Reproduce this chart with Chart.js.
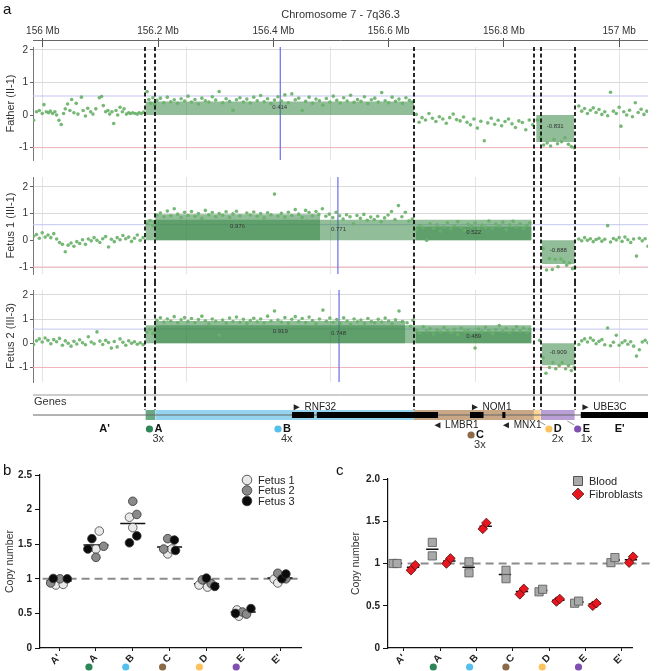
<!DOCTYPE html>
<html>
<head>
<meta charset="utf-8">
<script src="https://cdn.jsdelivr.net/npm/chart.js@4.4.1/dist/chart.umd.min.js"></script>
<style>
  body { margin: 0; background: #fff; font-family: "Liberation Sans", Arial, sans-serif; }
  #page { position: relative; width: 668px; height: 671px; overflow: hidden; }
  canvas { position: absolute; left: 0; }
  .panel { position: absolute; font-size: 15px; color: #111; z-index: 2; }
</style>
</head>
<body>
<div id="page">
  <div class="panel" style="left:3px;top:0">a</div>
  <canvas id="trackFather" width="668" height="168" style="top:0"></canvas>
  <canvas id="trackFetus1" width="668" height="114" style="top:168px"></canvas>
  <canvas id="trackFetus2" width="668" height="108" style="top:282px"></canvas>
  <canvas id="genes" width="668" height="80" style="top:390px"></canvas>
  <div class="panel" style="left:3px;top:461px">b</div>
  <canvas id="fetusCn" width="334" height="209" style="top:462px"></canvas>
  <div class="panel" style="left:336px;top:461px">c</div>
  <canvas id="tissueCn" width="334" height="209" style="top:462px;left:334px"></canvas>
</div>
<script>
// ---- panel a: array CGH tracks (Mb, log2 ratio) ----
const xMin = 155.983, xMax = 157.050;
const topTicksMb = [156, 156.2, 156.4, 156.6, 156.8, 157];
const gridMb = [156, 156.25, 156.5, 156.75, 157];
const boundaries = [156.178, 156.195, 156.644, 156.852, 156.864, 156.923];
const gainLine = 0.585, lossLine = -1;

const fatherProbes = [
  [155.984,-0.16],[155.989,0.10],[155.994,0.14],[155.999,0.05],[156.002,0.32],[156.006,0.10],[156.010,0.07],[156.013,0.12],
  [156.017,0.05],[156.021,0.10],[156.024,0.00],[156.028,-0.16],[156.032,-0.29],[156.036,0.05],[156.039,0.19],[156.043,0.34],
  [156.047,0.14],[156.050,0.48],[156.054,0.07],[156.058,0.36],[156.061,0.03],[156.067,0.55],[156.070,0.14],[156.074,-0.03],
  [156.078,0.21],[156.083,0.10],[156.087,0.03],[156.092,0.19],[156.098,0.53],[156.102,0.57],[156.105,0.29],[156.109,0.10],
  [156.113,0.14],[156.116,0.03],[156.120,0.10],[156.123,-0.26],[156.127,0.14],[156.130,0.00],[156.134,0.24],[156.138,0.10],
  [156.141,0.19],[156.145,0.03],[156.149,0.07],[156.152,0.05],[156.156,0.07],[156.160,0.05],[156.164,0.03],[156.167,0.07],
  [156.171,0.05],[156.175,0.09],
  [156.181,0.72],[156.184,0.48],[156.187,0.36],[156.191,0.53],[156.194,0.32],
  [156.198,0.45],[156.204,0.52],[156.210,0.38],[156.216,0.55],[156.222,0.41],[156.228,0.47],[156.234,0.36],[156.240,0.50],
  [156.246,0.43],[156.252,0.58],[156.258,0.40],[156.264,0.48],[156.270,0.34],[156.276,0.52],[156.282,0.44],[156.288,0.40],
  [156.294,0.56],[156.300,0.46],[156.306,0.72],[156.312,0.38],[156.318,0.50],[156.324,0.42],[156.330,0.15],[156.336,0.47],
  [156.342,0.53],[156.348,0.40],[156.354,0.49],[156.360,0.37],[156.366,0.55],[156.372,0.44],[156.378,0.60],[156.384,0.41],
  [156.390,0.50],[156.396,0.35],[156.402,0.46],[156.408,0.56],[156.414,0.43],[156.420,0.62],[156.426,0.38],[156.432,0.65],
  [156.438,0.47],[156.444,0.52],[156.450,0.14],[156.456,0.42],[156.462,0.55],[156.468,0.36],[156.474,0.49],[156.480,0.44],
  [156.486,0.30],[156.492,0.51],[156.498,0.40],[156.504,0.58],[156.510,0.45],[156.516,0.37],[156.522,0.53],[156.528,0.43],
  [156.534,0.61],[156.540,0.39],[156.546,0.48],[156.552,0.42],[156.558,0.56],[156.564,0.35],[156.570,0.47],[156.576,0.52],
  [156.582,0.40],[156.588,0.69],[156.594,0.44],[156.600,0.38],[156.606,0.55],[156.612,0.42],[156.618,0.49],[156.624,0.36],
  [156.630,0.53],[156.636,0.45],[156.641,0.40],
  [156.648,0.02],[156.653,-0.22],[156.658,-0.08],[156.664,-0.15],[156.670,0.05],[156.676,-0.10],[156.682,-0.20],[156.688,-0.05],
  [156.694,-0.12],[156.700,-0.25],[156.706,-0.08],[156.712,0.03],[156.718,-0.14],[156.724,-0.18],[156.730,-0.06],[156.736,-0.22],
  [156.742,-0.30],[156.748,-0.12],[156.754,-0.40],[156.760,-0.19],[156.766,-0.79],[156.772,-0.24],[156.778,-0.10],[156.784,-0.28],
  [156.790,-0.16],[156.796,-0.33],[156.802,-0.20],[156.808,-0.12],[156.814,-0.27],[156.820,-0.38],[156.826,-0.18],[156.832,-0.23],
  [156.838,-0.45],[156.844,-0.15],[156.850,-0.30],
  [156.858,-0.15],[156.864,-0.70],[156.869,-0.92],[156.875,-0.86],[156.881,-0.95],[156.887,-0.75],[156.893,-0.88],[156.900,-0.82],
  [156.906,-0.70],[156.912,-0.90],[156.917,-0.97],[156.922,-1.00],
  [156.930,0.28],[156.935,0.12],[156.940,0.20],[156.945,0.05],[156.950,0.15],[156.955,0.22],[156.960,0.08],[156.965,0.17],
  [156.970,0.02],[156.975,0.10],[156.980,-0.02],[156.985,0.70],[156.990,0.12],[156.995,0.05],[157.000,0.24],[157.003,-0.34],
  [157.008,0.10],[157.013,0.00],[157.018,0.15],[157.023,-0.05],[157.028,0.38],[157.033,0.08],[157.038,0.18],[157.043,0.02],
  [157.048,0.12]
];

const fetus1Probes = [
  [155.984,0.15],[155.989,0.22],[155.994,0.08],[155.999,0.28],[156.004,0.12],[156.009,0.20],[156.014,0.10],[156.019,0.25],
  [156.024,0.05],[156.029,-0.08],[156.034,-0.15],[156.039,-0.43],[156.044,-0.18],[156.049,-0.10],[156.054,-0.22],[156.059,-0.05],
  [156.064,-0.12],[156.069,0.02],[156.074,-0.15],[156.079,0.05],[156.084,-0.02],[156.089,0.10],[156.094,0.00],[156.099,-0.08],
  [156.104,0.06],[156.109,0.14],[156.114,-0.25],[156.119,0.04],[156.124,-0.05],[156.129,0.10],[156.134,0.02],[156.139,0.18],
  [156.144,0.06],[156.149,0.12],[156.154,-0.04],[156.159,0.08],[156.164,0.20],[156.169,0.00],[156.174,0.10],
  [156.181,0.62],[156.186,0.74],[156.191,0.55],[156.194,0.68],
  [156.198,0.95],[156.204,1.02],[156.210,0.88],[156.216,1.10],[156.222,0.92],[156.228,1.18],[156.234,0.98],[156.240,0.85],
  [156.246,1.05],[156.252,0.93],[156.258,1.08],[156.264,0.90],[156.270,1.00],[156.276,0.82],[156.282,1.12],[156.288,0.96],
  [156.294,1.04],[156.300,0.88],[156.306,1.00],[156.312,0.94],[156.318,1.07],[156.324,0.86],[156.330,0.99],[156.336,1.09],
  [156.342,0.92],[156.348,0.55],[156.354,1.02],[156.360,0.95],[156.366,1.06],[156.372,0.90],[156.378,1.00],[156.384,0.84],
  [156.390,1.03],[156.396,0.96],[156.402,1.73],[156.408,0.91],[156.414,1.01],[156.420,0.87],[156.426,1.05],[156.432,0.93],
  [156.438,1.15],[156.444,0.98],[156.450,0.86],[156.456,1.12],[156.462,1.04],[156.468,0.92],[156.474,1.08],[156.479,0.97],
  [156.485,1.18],[156.491,0.90],[156.497,0.98],[156.503,0.85],[156.509,1.05],[156.515,0.92],[156.521,0.80],[156.527,0.96],
  [156.533,0.88],[156.539,0.62],[156.545,0.93],[156.551,0.82],[156.557,0.97],[156.563,0.75],[156.569,0.87],[156.575,0.78],
  [156.581,0.90],[156.587,0.70],[156.593,0.84],[156.599,0.95],[156.605,1.08],[156.611,0.78],[156.617,1.30],[156.623,0.88],
  [156.629,1.05],[156.635,0.72],[156.641,0.80],
  [156.648,0.40],[156.654,0.55],[156.660,0.48],[156.666,0.00],[156.672,0.62],[156.678,0.45],[156.684,0.58],[156.690,0.35],
  [156.696,0.50],[156.702,0.66],[156.708,0.44],[156.714,0.55],[156.720,0.70],[156.726,0.48],[156.732,0.38],[156.738,0.60],
  [156.744,0.52],[156.750,0.65],[156.756,0.42],[156.762,0.57],[156.768,0.49],[156.774,0.72],[156.780,0.46],[156.786,0.61],
  [156.792,0.53],[156.798,0.68],[156.804,0.40],[156.810,0.58],[156.816,0.71],[156.822,0.50],[156.828,0.62],[156.834,0.45],
  [156.840,0.56],[156.845,0.66],
  [156.868,-0.31],[156.874,-1.11],[156.879,-0.68],[156.884,-1.09],[156.889,-0.72],[156.894,-0.99],[156.899,-0.70],[156.904,-0.80],
  [156.909,-0.93],[156.914,-0.85],[156.919,-1.06],[156.923,-1.02],
  [156.930,0.05],[156.935,-0.02],[156.940,0.10],[156.945,0.00],[156.950,0.06],[156.955,-0.05],[156.960,0.03],[156.965,0.08],
  [156.970,-0.03],[156.975,0.04],[156.980,0.55],[156.985,-0.06],[156.990,0.07],[156.995,0.01],[157.000,0.10],[157.005,-0.04],
  [157.010,0.12],[157.015,0.02],[157.020,-0.08],[157.025,0.05],[157.030,-0.59],[157.035,0.08],[157.040,-0.02],[157.045,0.06],
  [157.050,-0.22]
];

const fetus2Probes = [
  [155.984,-0.05],[155.989,0.10],[155.994,0.18],[155.999,0.05],[156.004,0.22],[156.009,0.12],[156.014,-0.02],[156.019,0.15],
  [156.024,0.06],[156.029,0.20],[156.034,-0.08],[156.039,0.10],[156.044,0.00],[156.049,-0.12],[156.054,0.08],[156.059,-0.03],
  [156.064,0.14],[156.069,0.02],[156.074,-0.06],[156.079,0.27],[156.084,0.05],[156.089,-0.02],[156.094,0.47],[156.099,0.09],
  [156.104,-0.05],[156.109,0.12],[156.114,0.03],[156.119,-0.20],[156.124,0.07],[156.129,-0.15],[156.134,0.18],[156.139,0.04],
  [156.144,-0.08],[156.149,0.10],[156.154,0.00],[156.159,0.06],[156.164,-0.04],[156.169,0.02],[156.174,-0.06],
  [156.181,0.45],[156.186,0.58],[156.191,0.40],[156.194,0.52],
  [156.198,0.95],[156.204,1.05],[156.210,0.88],[156.216,1.00],[156.222,0.92],[156.228,1.10],[156.234,0.85],[156.240,0.97],
  [156.246,1.06],[156.252,0.90],[156.258,1.02],[156.264,0.86],[156.270,0.98],[156.276,1.12],[156.282,0.93],[156.288,0.80],
  [156.294,1.00],[156.300,0.91],[156.306,0.33],[156.312,0.96],[156.318,0.84],[156.324,1.04],[156.330,0.90],[156.336,1.08],
  [156.342,0.87],[156.348,0.99],[156.354,0.82],[156.360,0.94],[156.366,1.03],[156.372,0.89],[156.378,1.00],[156.384,0.85],
  [156.390,1.12],[156.396,0.92],[156.402,1.33],[156.408,0.96],[156.414,0.88],[156.420,1.06],[156.426,0.83],[156.432,0.99],
  [156.438,1.10],[156.444,0.90],[156.450,1.02],[156.456,0.86],[156.462,1.08],[156.468,0.94],[156.474,0.80],[156.480,1.00],
  [156.486,1.37],[156.492,0.91],[156.498,1.04],[156.504,0.87],[156.510,0.98],[156.516,0.84],[156.522,1.05],[156.528,0.92],
  [156.534,0.78],[156.540,1.00],[156.546,0.89],[156.552,0.96],[156.558,0.82],[156.564,1.02],[156.570,0.90],[156.576,0.85],
  [156.582,0.99],[156.588,0.88],[156.594,1.04],[156.600,0.92],[156.606,0.80],[156.612,0.97],[156.618,1.33],[156.624,0.90],
  [156.632,0.85],[156.638,0.70],[156.642,0.95],
  [156.648,0.55],[156.654,0.42],[156.660,0.68],[156.666,0.50],[156.672,0.60],[156.678,0.38],[156.684,0.55],[156.690,0.47],
  [156.696,0.65],[156.702,0.52],[156.708,0.44],[156.714,0.58],[156.720,0.36],[156.726,0.62],[156.732,0.50],[156.738,0.55],
  [156.744,0.45],[156.750,-0.20],[156.756,0.59],[156.762,0.48],[156.768,0.66],[156.774,0.52],[156.780,0.40],[156.786,0.57],
  [156.792,0.73],[156.798,0.49],[156.804,0.61],[156.810,0.43],[156.816,0.55],[156.822,0.68],[156.828,0.50],[156.834,0.62],
  [156.840,0.45],[156.845,0.58],
  [156.862,0.12],[156.868,-0.60],[156.873,-1.24],[156.879,-1.00],[156.885,-0.80],[156.890,-1.05],[156.896,-0.93],[156.901,-0.80],
  [156.907,-1.05],[156.912,-0.93],[156.917,-1.13],[156.922,-1.00],
  [156.930,-0.05],[156.935,0.10],[156.940,0.18],[156.945,0.05],[156.950,0.22],[156.955,0.12],[156.960,-0.02],[156.965,0.08],
  [156.970,0.15],[156.975,-0.06],[156.980,0.63],[156.985,-0.10],[156.990,0.04],[156.995,0.33],[157.000,-0.08],[157.005,0.02],
  [157.010,0.10],[157.015,-0.04],[157.020,0.06],[157.025,-0.12],[157.030,-0.53],[157.035,-0.27],[157.040,0.05],[157.045,0.12],
  [157.050,0.02]
];

// called segments: [from Mb, to Mb, mean log2 ratio]
const fatherSegments = [[156.178, 156.644, 0.414], [156.856, 156.922, -0.831]];
const fetus1Segments = [[156.178, 156.848, 0.771], [156.195, 156.481, 0.976], [156.647, 156.848, 0.522], [156.866, 156.923, -0.888]];
const fetus2Segments = [[156.178, 156.848, 0.748], [156.195, 156.629, 0.919], [156.647, 156.848, 0.489], [156.866, 156.923, -0.909]];
const cursorMb = { father: 156.412, fetus1: 156.512, fetus2: 156.514 };

// genes track
const regionNames = ['A', 'B', 'C', 'D', 'E'];
const regionBounds = [[156.178, 156.195], [156.195, 156.644], [156.644, 156.852], [156.852, 156.864], [156.864, 156.923]];
const regionCopies = ['3x', '4x', '3x', '2x', '1x'];
const regionLabelMb = [156.185, 156.408, 156.743, 156.878, 156.928];
const flankLabels = [["A'", 156.107], ["E'", 157.001]];
const geneBlocks = [[156.432, 156.471], [156.475, 156.686], [156.741, 156.765], [156.797, 156.803], [156.933, 157.050]];
const geneNames = [['RNF32', 156.432, '+'], ['NOM1', 156.741, '+'], ['UBE3C', 156.933, '+'], ['LMBR1', 156.676, '-'], ['MNX1', 156.795, '-']];

// ---- panels b and c: qPCR copy number ----
const cnCategories = ["A'", 'A', 'B', 'C', 'D', 'E', "E'"];
const fetus1Cn = [[0.91, 0.92], [1.43, 1.69], [1.89, 1.74], [1.36, 1.43], [0.91, 0.88], [0.55, 0.46], [0.995, 0.94]];
const fetus2Cn = [[0.94, 1.0], [1.31, 1.47], [2.12, 1.93], [1.43, 1.58], [0.985, 0.93], [0.52, 0.49], [1.08, 1.0]];
const fetus3Cn = [[1.005, 1.0], [1.43, 1.58], [1.52, 1.62], [1.56, 1.41], [1.01, 0.89], [0.50, 0.57], [1.0, 1.07]];
const fetus1Jitter = [[-0.09, 0.11], [0, 0.09], [-0.09, 0], [-0.05, 0.06], [-0.2, 0.03], [-0.17, -0.12], [-0.16, -0.06]];
const fetus2Jitter = [[-0.23, 0.02], [0, 0.21], [0, 0.11], [-0.16, -0.05], [-0.11, 0.13], [-0.02, 0.09], [-0.06, 0.16]];
const fetus3Jitter = [[-0.16, 0.22], [-0.22, -0.11], [-0.09, 0.11], [0.13, 0.16], [0, 0.23], [-0.21, 0.21], [0.05, 0.16]];
const fetusMedian = [0.97, 1.49, 1.80, 1.46, 0.93, 0.52, 1.01];

const bloodCn = [[1.0, 1.0], [1.25, 1.09], [1.02, 0.89], [0.92, 0.82], [0.665, 0.695], [0.53, 0.555], [1.01, 1.07]];
const fibroCn = [[0.92, 0.98], [1.0, 1.06], [1.41, 1.48], [0.635, 0.70], [0.55, 0.58], [0.50, 0.53], [1.01, 1.08]];
const bloodJitter = [[-0.30, -0.19], [-0.22, -0.22], [-0.21, -0.21], [-0.19, -0.19], [-0.28, -0.18], [-0.30, -0.19], [-0.30, -0.19]];
const fibroJitter = [[0.19, 0.31], [0.17, 0.28], [0.17, 0.27], [0.19, 0.30], [0.20, 0.29], [0.20, 0.30], [0.20, 0.31]];
const bloodMedian = [1.0, 1.17, 0.955, 0.87, 0.68, 0.545, 1.04];
const fibroMedian = [0.955, 1.03, 1.44, 0.67, 0.565, 0.52, 1.045];

// colours
const FONT = '"Liberation Sans", Arial, sans-serif';
const regionBand = { A: '#6aa984', B: '#95d4ef', C: '#c8a787', D: '#fcd597', E: '#b99fd6' };
const regionDot = { A: '#2e8658', B: '#55c0ee', C: '#8b6a47', D: '#fdc25e', E: '#7f4fb2' };

Chart.defaults.font.family = FONT;
Chart.defaults.color = '#333';
Chart.defaults.animation = false;
Chart.defaults.events = [];
Chart.defaults.plugins.legend.display = false;
Chart.defaults.plugins.tooltip.enabled = false;

const hline = (y, color, width, x0 = xMin, x1 = xMax) => ({
  data: [{ x: x0, y }, { x: x1, y }], showLine: true, borderColor: color, borderWidth: width, pointRadius: 0
});
const rect = (x0, x1, lo, hi, color) => ({
  data: [{ x: x0, y: hi }, { x: x1, y: hi }], showLine: true, borderWidth: 0, borderColor: 'rgba(0,0,0,0)',
  pointRadius: 0, fill: { value: lo }, backgroundColor: color
});

function boundaryLines(mode) {
  return {
    id: 'boundaryLines',
    afterDraw(chart) {
      const { ctx, chartArea, scales: { x, y } } = chart;
      const top = mode === 'first' ? chartArea.top : 0;
      const bottom = mode === 'genes' ? y.getPixelForValue(0.5) : chart.height;
      ctx.save();
      ctx.strokeStyle = '#111';
      ctx.lineWidth = 1.8;
      ctx.setLineDash([4, 2.5]);
      boundaries.forEach(b => {
        const px = Math.round(x.getPixelForValue(b));
        ctx.beginPath(); ctx.moveTo(px, top); ctx.lineTo(px, bottom); ctx.stroke();
      });
      ctx.restore();
    }
  };
}

const segmentLabels = {
  id: 'segmentLabels',
  afterDatasetsDraw(chart, args, opts) {
    const { ctx, scales: { x, y } } = chart;
    ctx.save();
    ctx.font = '6px ' + FONT;
    ctx.fillStyle = '#333';
    ctx.textAlign = 'center';
    ctx.textBaseline = 'middle';
    opts.segments.forEach(([a, b, v]) => {
      const lift = v > 0 ? 0.55 : 0.42;
      ctx.fillText(v.toFixed(3), x.getPixelForValue((a + b) / 2), y.getPixelForValue(v * lift));
    });
    ctx.restore();
  }
};

const topAxisLine = {
  id: 'topAxisLine',
  afterDraw(chart) {
    const { ctx, chartArea } = chart;
    ctx.save();
    ctx.strokeStyle = '#666';
    ctx.lineWidth = 1;
    ctx.beginPath();
    ctx.moveTo(chartArea.left, chartArea.top - 6.5);
    ctx.lineTo(chartArea.right, chartArea.top - 6.5);
    ctx.stroke();
    ctx.restore();
  }
};

function trackChart(id, probes, segments, cursor, yMin, yMax, title, layout) {
  const scales = {
    x: {
      type: 'linear', min: xMin, max: xMax,
      afterBuildTicks: s => { s.ticks = gridMb.map(v => ({ value: v })); },
      ticks: { display: false },
      grid: { color: '#e3e3e3', drawTicks: false },
      border: { display: false },
      afterFit: s => { s.height = layout.bottom; }
    },
    y: {
      min: yMin, max: yMax,
      afterBuildTicks: s => { s.ticks = [-1, 0, 1, 2].map(v => ({ value: v })); },
      ticks: { font: { size: 10 }, color: '#333', padding: 2 },
      grid: { color: c => (c.tick && c.tick.value === 0 ? 'rgba(0,0,0,0)' : '#dadada'), tickLength: 3, tickColor: '#666' },
      border: { color: '#777' },
      title: { display: true, text: title, font: { size: 11 }, color: '#333', padding: { top: 4, bottom: 2 } },
      afterFit: s => { s.width = 33; }
    }
  };
  const plugins = [boundaryLines(layout.top ? 'first' : 'rest'), segmentLabels];
  if (layout.topAxis) {
    scales.xTop = {
      type: 'linear', position: 'top', min: xMin, max: xMax,
      afterBuildTicks: s => { s.ticks = topTicksMb.map(v => ({ value: v })); },
      ticks: { callback: v => `${+v.toFixed(1)} Mb`, font: { size: 10 }, color: '#333', padding: 1, maxRotation: 0, autoSkip: false },
      grid: { drawOnChartArea: false, tickLength: 9, color: '#555' },
      border: { display: false },
      title: { display: true, text: 'Chromosome 7 - 7q36.3', font: { size: 11 }, color: '#333', padding: { top: 8, bottom: 0 } },
      afterFit: s => { s.height = 47; }
    };
    plugins.push(topAxisLine);
  }
  new Chart(document.getElementById(id), {
    type: 'scatter',
    data: {
      datasets: [
        { data: probes.map(([x, y]) => ({ x, y })), pointRadius: 1.8, pointBackgroundColor: 'rgba(104,176,104,0.9)', pointBorderWidth: 0 },
        ...segments.map(([a, b, v]) => rect(a, b, 0, v, 'rgba(55,135,70,0.55)')),
        { data: [{ x: cursor, y: yMin }, { x: cursor, y: yMax }], showLine: true, borderColor: '#6c6ce8', borderWidth: 1.2, pointRadius: 0 },
        hline(gainLine, '#c3c5f3', 1),
        hline(lossLine, '#f1b3bb', 1)
      ]
    },
    options: {
      responsive: false,
      devicePixelRatio: 1,
      layout: { padding: { left: 0, right: 20, top: layout.topPad, bottom: 0 } },
      scales,
      plugins: { segmentLabels: { segments } }
    },
    plugins
  });
}

trackChart('trackFather', fatherProbes, fatherSegments, cursorMb.father, -1.38, 2.09, 'Father (II-1)', { topAxis: true, top: true, topPad: 0, bottom: 3 });
trackChart('trackFetus1', fetus1Probes, fetus1Segments, cursorMb.fetus1, -1.26, 2.37, 'Fetus 1 (III-1)', { topPad: 9, bottom: 8 });
trackChart('trackFetus2', fetus2Probes, fetus2Segments, cursorMb.fetus2, -1.6, 2.2, 'Fetus 2 (III-3)', { topPad: 6, bottom: 8 });

// genes track
const genesText = {
  id: 'genesText',
  afterDraw(chart) {
    const { ctx, chartArea, scales: { x, y } } = chart;
    ctx.save();
    ctx.textBaseline = 'middle';
    ctx.fillStyle = '#333';
    ctx.font = '11px ' + FONT;
    ctx.textAlign = 'left';
    ctx.fillText('Genes', chartArea.left + 1, y.getPixelForValue(1.3));
    ctx.font = '10px ' + FONT;
    ctx.fillStyle = '#222';
    geneNames.forEach(([name, at, strand]) => {
      const px = x.getPixelForValue(at);
      const py = y.getPixelForValue(strand === '+' ? 0.8 : -1.0);
      ctx.fillText((strand === '+' ? '\u25BA ' : '\u25C4 ') + name, px, py);
    });
    // D / E leader lines
    ctx.strokeStyle = '#777';
    ctx.lineWidth = 0.8;
    [3, 4].forEach(i => {
      const at = regionLabelMb[i];
      ctx.beginPath();
      ctx.moveTo(x.getPixelForValue(at - 0.018), y.getPixelForValue(-0.6));
      ctx.lineTo(x.getPixelForValue(at - 0.006), y.getPixelForValue(-1.0));
      ctx.stroke();
    });
    regionNames.forEach((name, i) => {
      const px = x.getPixelForValue(regionLabelMb[i]);
      const low = name === 'C' ? 0.6 : 0;
      const py = y.getPixelForValue(-1.4 - low);
      ctx.beginPath();
      ctx.arc(px, py, 3.6, 0, Math.PI * 2);
      ctx.fillStyle = regionDot[name];
      ctx.fill();
      ctx.fillStyle = '#111';
      ctx.font = 'bold 11px ' + FONT;
      ctx.fillText(name, px + 5, py);
      ctx.font = '11px ' + FONT;
      ctx.fillStyle = '#333';
      ctx.fillText(regionCopies[i], px + 3, y.getPixelForValue(-2.35 - low));
    });
    ctx.font = 'bold 11px ' + FONT;
    ctx.fillStyle = '#111';
    ctx.textAlign = 'center';
    flankLabels.forEach(([name, at]) => ctx.fillText(name, x.getPixelForValue(at), y.getPixelForValue(-1.4)));
    ctx.restore();
  }
};

new Chart(document.getElementById('genes'), {
  type: 'scatter',
  data: {
    datasets: [
      ...geneBlocks.map(([a, b]) => rect(a, b, -0.3, 0.3, '#000')),
      hline(0, '#666', 1),
      ...regionNames.map((n, i) => rect(regionBounds[i][0], regionBounds[i][1], -0.5, 0.5, regionBand[n])),
      hline(2, '#9a9a9a', 1)
    ]
  },
  options: {
    responsive: false,
    devicePixelRatio: 1,
    layout: { padding: { left: 33, right: 20, top: 0, bottom: 0 } },
    scales: {
      x: { type: 'linear', min: xMin, max: xMax, display: false },
      y: { min: -5.5, max: 2.5, display: false }
    }
  },
  plugins: [boundaryLines('genes'), genesText]
});

// ---- b / c ----
const toPoints = (vals, jit) => vals.flatMap((pair, i) => pair.map((v, k) => ({ x: i + jit[i][k], y: v })));
const medianBars = (meds, shift, half) => meds.flatMap((m, i) => [
  { x: i + shift - half, y: m }, { x: i + shift + half, y: m }, { x: i + shift + half, y: null }
]);

const categoryDots = {
  id: 'categoryDots',
  afterDraw(chart) {
    const { ctx, chartArea, scales: { x } } = chart;
    ctx.save();
    cnCategories.forEach((c, i) => {
      if (!regionDot[c]) return;
      ctx.beginPath();
      ctx.arc(x.getPixelForValue(i) - 7, chartArea.bottom + 19, 3.6, 0, Math.PI * 2);
      ctx.fillStyle = regionDot[c];
      ctx.fill();
    });
    ctx.restore();
  }
};

const miniLegend = {
  id: 'miniLegend',
  afterDraw(chart, args, opts) {
    const { ctx, chartArea } = chart;
    ctx.save();
    ctx.font = '11px ' + FONT;
    ctx.textBaseline = 'middle';
    ctx.textAlign = 'left';
    opts.items.forEach((it, k) => {
      const cx = chartArea.right - 54;
      const cy = chartArea.top + opts.first + k * opts.step;
      ctx.fillStyle = it.fill;
      ctx.strokeStyle = '#333';
      ctx.lineWidth = 0.8;
      ctx.beginPath();
      if (it.shape === 'circle') ctx.arc(cx, cy, 4.8, 0, Math.PI * 2);
      else if (it.shape === 'square') ctx.rect(cx - 4.5, cy - 4.5, 9, 9);
      else { ctx.moveTo(cx, cy - 6); ctx.lineTo(cx + 6, cy); ctx.lineTo(cx, cy + 6); ctx.lineTo(cx - 6, cy); ctx.closePath(); }
      ctx.fill();
      ctx.stroke();
      ctx.fillStyle = '#222';
      ctx.fillText(it.label, cx + 11, cy + 0.5);
    });
    ctx.restore();
  }
};

function cnScales(xmin, xmax, ymax, yWidth, tickFmt) {
  return {
    x: {
      type: 'linear', min: xmin, max: xmax,
      afterBuildTicks: s => { s.ticks = cnCategories.map((c, i) => ({ value: i })); },
      ticks: { callback: (v, i) => cnCategories[i], minRotation: 45, maxRotation: 45, autoSkip: false,
        font: { size: 10, weight: 'bold' }, color: '#222', padding: 1 },
      grid: { drawOnChartArea: false, tickLength: 3, color: '#111' },
      border: { color: '#111', width: 1.2 },
      afterFit: s => { s.height = 23; }
    },
    y: {
      min: 0, max: ymax,
      afterBuildTicks: s => {
        const t = [];
        for (let v = 0; v <= ymax + 1e-9; v += 0.5) t.push({ value: v });
        s.ticks = t;
      },
      ticks: { callback: tickFmt, font: { size: 10, weight: 'bold' }, color: '#222', padding: 3 },
      grid: { drawOnChartArea: false, tickLength: 5, color: '#111' },
      border: { color: '#111', width: 1.2 },
      title: { display: true, text: 'Copy number', font: { size: 10.5 }, color: '#333', padding: { top: 4, bottom: 2 } },
      afterFit: s => { s.width = yWidth; }
    }
  };
}

new Chart(document.getElementById('fetusCn'), {
  type: 'scatter',
  data: {
    datasets: [
      { data: toPoints(fetus3Cn, fetus3Jitter), pointRadius: 4.3, pointBackgroundColor: '#0b0b0b', pointBorderColor: '#333', pointBorderWidth: 0.8, clip: false },
      { data: toPoints(fetus2Cn, fetus2Jitter), pointRadius: 4.3, pointBackgroundColor: '#8a8a8a', pointBorderColor: '#333', pointBorderWidth: 0.8, clip: false },
      { data: toPoints(fetus1Cn, fetus1Jitter), pointRadius: 4.3, pointBackgroundColor: '#e9e9e9', pointBorderColor: '#444', pointBorderWidth: 0.8, clip: false },
      { data: medianBars(fetusMedian, 0, 0.34), showLine: true, spanGaps: false, borderColor: '#111', borderWidth: 1.5, pointRadius: 0 },
      { data: [{ x: -0.45, y: 1 }, { x: 6.57, y: 1 }], showLine: true, borderColor: '#8c8c8c', borderWidth: 2, borderDash: [8, 5], pointRadius: 0 }
    ]
  },
  options: {
    responsive: false,
    devicePixelRatio: 1,
    layout: { padding: { left: 0, right: 33, top: 13, bottom: 0 } },
    scales: cnScales(-0.52, 6.57, 2.5, 40, v => String(v)),
    plugins: {
      miniLegend: {
        first: 5, step: 10.5,
        items: [
          { shape: 'circle', fill: '#e9e9e9', label: 'Fetus 1' },
          { shape: 'circle', fill: '#8a8a8a', label: 'Fetus 2' },
          { shape: 'circle', fill: '#0b0b0b', label: 'Fetus 3' }
        ]
      }
    }
  },
  plugins: [categoryDots, miniLegend]
});

new Chart(document.getElementById('tissueCn'), {
  type: 'scatter',
  data: {
    datasets: [
      { data: toPoints(fibroCn, fibroJitter), pointStyle: 'rectRot', pointRadius: 4.8, pointBackgroundColor: '#e8161e', pointBorderColor: '#4a0a0a', pointBorderWidth: 0.8, clip: false },
      { data: toPoints(bloodCn, bloodJitter), pointStyle: 'rect', pointRadius: 5.8, pointBackgroundColor: '#a9a9a9', pointBorderColor: '#555', pointBorderWidth: 0.8, clip: false },
      { data: medianBars(fibroMedian, 0.25, 0.17), showLine: true, spanGaps: false, borderColor: '#111', borderWidth: 1.5, pointRadius: 0, clip: false },
      { data: medianBars(bloodMedian, -0.22, 0.17), showLine: true, spanGaps: false, borderColor: '#111', borderWidth: 1.5, pointRadius: 0 },
      { data: [{ x: 0.1, y: 1 }, { x: 6.85, y: 1 }], showLine: true, borderColor: '#8c8c8c', borderWidth: 2, borderDash: [8, 5], pointRadius: 0, clip: false }
    ]
  },
  options: {
    responsive: false,
    devicePixelRatio: 1,
    layout: { padding: { left: 12, right: 36, top: 17, bottom: 0 } },
    scales: cnScales(-0.44, 6.28, 2, 42, v => (v === 2 ? '2.0' : String(v))),
    plugins: {
      miniLegend: {
        first: 2, step: 13,
        items: [
          { shape: 'square', fill: '#a9a9a9', label: 'Blood' },
          { shape: 'diamond', fill: '#e8161e', label: 'Fibroblasts' }
        ]
      }
    }
  },
  plugins: [categoryDots, miniLegend]
});
</script>
</body>
</html>
